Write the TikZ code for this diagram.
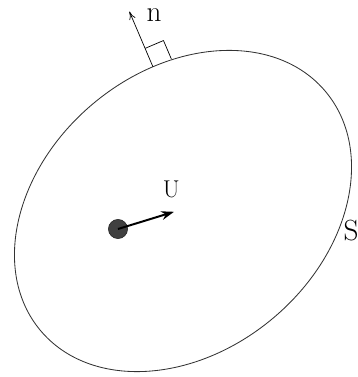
\documentclass[tikz,border=0pt]{standalone}
\usetikzlibrary{arrows.meta, calc}
\tikzset{
	surface/.style={line width=0.6pt, black!80},
	normalvec/.style={line width=0.5pt, -{To[length=2mm, width=1.6mm]}},
	velocity/.style={line width=1.4pt, -{Stealth[length=3.2mm, width=2.2mm]}},
	particle/.style={circle, fill=black!75, draw=black!85, minimum size=4.8mm, inner sep=0pt},
	lbl/.style={font=\huge, inner sep=1pt}
}

\begin{document}
\begin{tikzpicture}
	\useasboundingbox (0, 0) rectangle (8.95, 9.425);
	
	\begin{scope}[shift={(4.575, 4.15)}, rotate=40]
		\draw[surface] (0, 0) ellipse [x radius=4.65, y radius=3.5];
		\coordinate (foot) at ({4.65*cos(68)}, {3.5*sin(68)});
		\coordinate (ntip) at ($(foot)+(73.1:1.5)$);
		\draw[normalvec] (foot) -- (ntip);
		\draw[line width=0.5pt] (foot) ++(73.1:0.5) -- ++(-16.9:0.5) -- ++(-106.9:0.5);
	\end{scope}
	\node[lbl] (nlab) at (3.85, 9.05) {n};
	
	\node[particle] (dot) at (2.95, 3.7) {};
	\coordinate (utip) at (4.35, 4.13);
	\draw[velocity] (dot.center) -- (utip);
	\node[lbl, font=\LARGE] (ulab) at (4.28, 4.68) {U};
	
	\node[lbl] (slab) at (8.78, 3.67) {S};
\end{tikzpicture}
\end{document}
